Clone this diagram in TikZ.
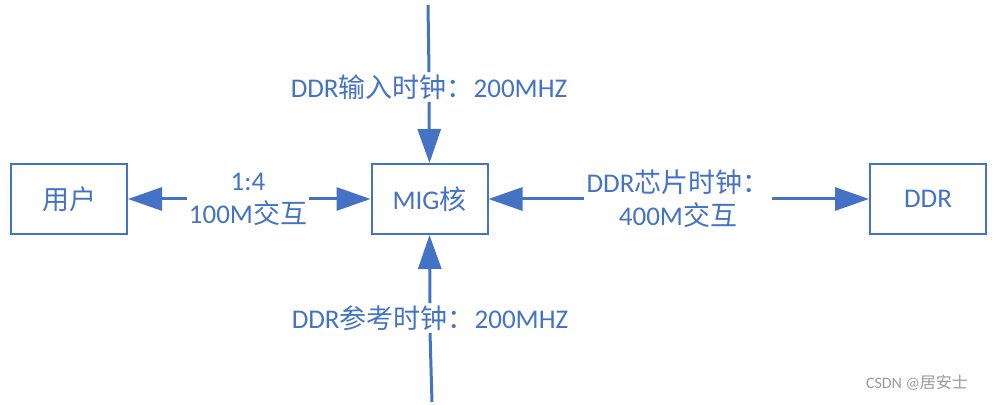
\documentclass[tikz,border=0pt]{standalone}
\usepackage{fontspec}
\setmainfont{Carlito}
\newfontfamily\cjk{Noto Sans CJK SC}
\usetikzlibrary{arrows.meta}
\definecolor{migblue}{HTML}{4472C4}
\begin{document}
\begin{tikzpicture}[x=0.5pt,y=-0.5pt,
  box/.style={draw=migblue,line width=1pt,minimum width=58pt,minimum height=35pt,text=migblue,
    font=\fontsize{13.5pt}{16.5pt}\selectfont},
  lbl/.style={text=migblue,align=center,inner sep=1pt,font=\fontsize{13.5pt}{16.5pt}\selectfont},
  arr/.style={draw=migblue,line width=1.5pt,-{Triangle[length=17pt,width=11.5pt]}}]

\useasboundingbox (0,0) rectangle (998,405);

% boxes
\node[box] (user) at (69,199) {\cjk 用户};
\node[box] (mig) at (429.5,199) {MIG{\cjk 核}};
\node[box] (ddr) at (928,199) {DDR};

% labels
\node[lbl] (rate) at (248,199) {1:4\\100M{\cjk 交互}};
\node[lbl] (chip) at (678,199) {DDR{\cjk 芯片时钟：}\\400M{\cjk 交互}};
\node[lbl] (inclk) at (429,87) {DDR{\cjk 输入时钟：}200MHZ};
\node[lbl] (refclk) at (430,318) {DDR{\cjk 参考时钟：}200MHZ};

\coordinate (top) at (428,5);
\coordinate (bot) at (432,402);

% connectors
\draw[arr] (rate.west) -- (user.east);
\draw[arr] (rate.east) -- (mig.west);
\draw[arr] (chip.west) -- (mig.east);
\draw[arr] (chip.east) -- (ddr.west);
\draw[draw=migblue,line width=1.5pt] (top) -- (inclk.north);
\draw[arr] (inclk.south) -- (mig.north);
\draw[draw=migblue,line width=1.5pt] (bot) -- (refclk.south);
\draw[arr] (refclk.north) -- (mig.south);

\node[text=black!40,font=\fontsize{8pt}{9pt}\selectfont] (mark) at (917,383) {CSDN @{\cjk 居安士}};

\end{tikzpicture}
\end{document}
